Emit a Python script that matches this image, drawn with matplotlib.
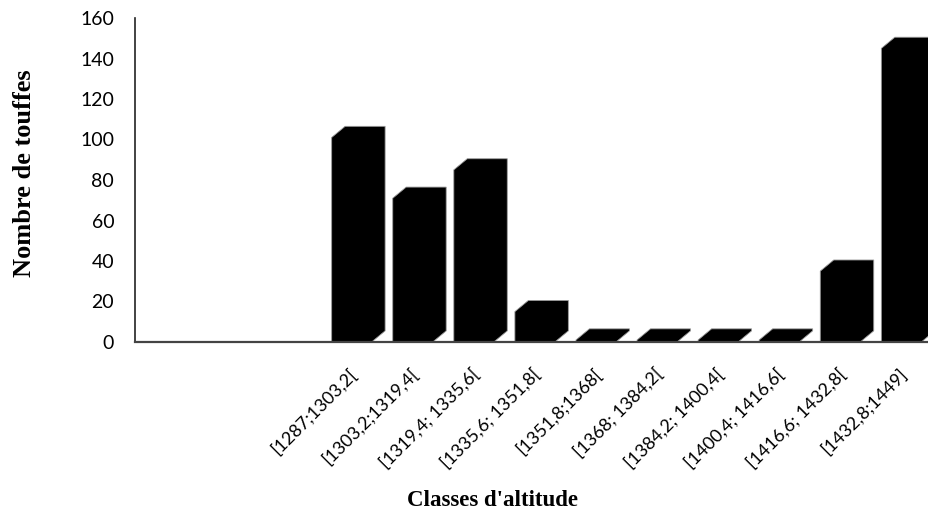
import matplotlib
matplotlib.use("Agg")
import matplotlib.pyplot as plt
from matplotlib.patches import Polygon

# Altitude classes and number of tufts per class
classes = ['[1287;1303,2[', '[1303,2;1319,4[', '[1319,4; 1335,6[', '[1335,6; 1351,8[',
           '[1351,8;1368[', '[1368; 1384,2[', '[1384,2; 1400,4[', '[1400,4; 1416,6[',
           '[1416,6; 1432,8[', '[1432,8;1449]']
touffes = [101, 71, 85, 15, 1, 1, 1, 1, 35, 145]

# three empty slots on the left of the category axis
n_vide = 3
n_slots = n_vide + len(classes)

# 3D look: front face width, depth offset (x in slots, y in data units)
larg = 0.655
gauche = 0.22
dx = 0.22
dy = 5.5

fig = plt.figure(figsize=(9.29, 5.30), dpi=100)
ax = fig.add_axes([135 / 929, (530 - 342) / 530, 1 - 135 / 929, (342 - 18) / 530])

pos = [n_vide + i for i in range(len(classes))]
for x, h in zip(pos, touffes):
    x0 = x + gauche
    x1 = x0 + larg
    # silhouette of the block: front face + top + right side
    pts = [(x0, 0), (x0, h), (x0 + dx, h + dy), (x1 + dx, h + dy),
           (x1 + dx, dy), (x1, 0)]
    ax.add_patch(Polygon(pts, closed=True, facecolor='black', edgecolor='#9a9a9a',
                         linewidth=0.6, clip_on=False, zorder=3))

ax.set_xlim(0, n_slots)
ax.set_ylim(0, 160)
ax.set_yticks(range(0, 161, 20))
ax.set_xticks([n_vide + i + 0.5 for i in range(len(classes))])
ax.set_xticklabels(classes, rotation=45, ha='right', rotation_mode='anchor',
                   fontfamily='Lato', fontsize=13)
for lab in ax.get_yticklabels():
    lab.set_fontfamily('Lato')
    lab.set_fontsize(14)
ax.tick_params(axis='y', length=0, pad=15)
ax.tick_params(axis='x', length=0, pad=17)

for s in ['top', 'right']:
    ax.spines[s].set_visible(False)
ax.spines['left'].set_color('#222222')
ax.spines['left'].set_linewidth(1.2)
ax.spines['bottom'].set_color('#444444')
ax.spines['bottom'].set_linewidth(1.6)
ax.spines['bottom'].set_zorder(4)

fig.text(25 / 929, 1 - 173 / 530, 'Nombre de touffes', rotation=90, ha='center', va='center',
         fontfamily='Liberation Serif', fontweight='bold', fontsize=19)
fig.text(493 / 929, 1 - 500 / 530, "Classes d'altitude", ha='center', va='center',
         fontfamily='Liberation Serif', fontweight='bold', fontsize=16.5)

fig.savefig('out.png', dpi=100, facecolor='white')
